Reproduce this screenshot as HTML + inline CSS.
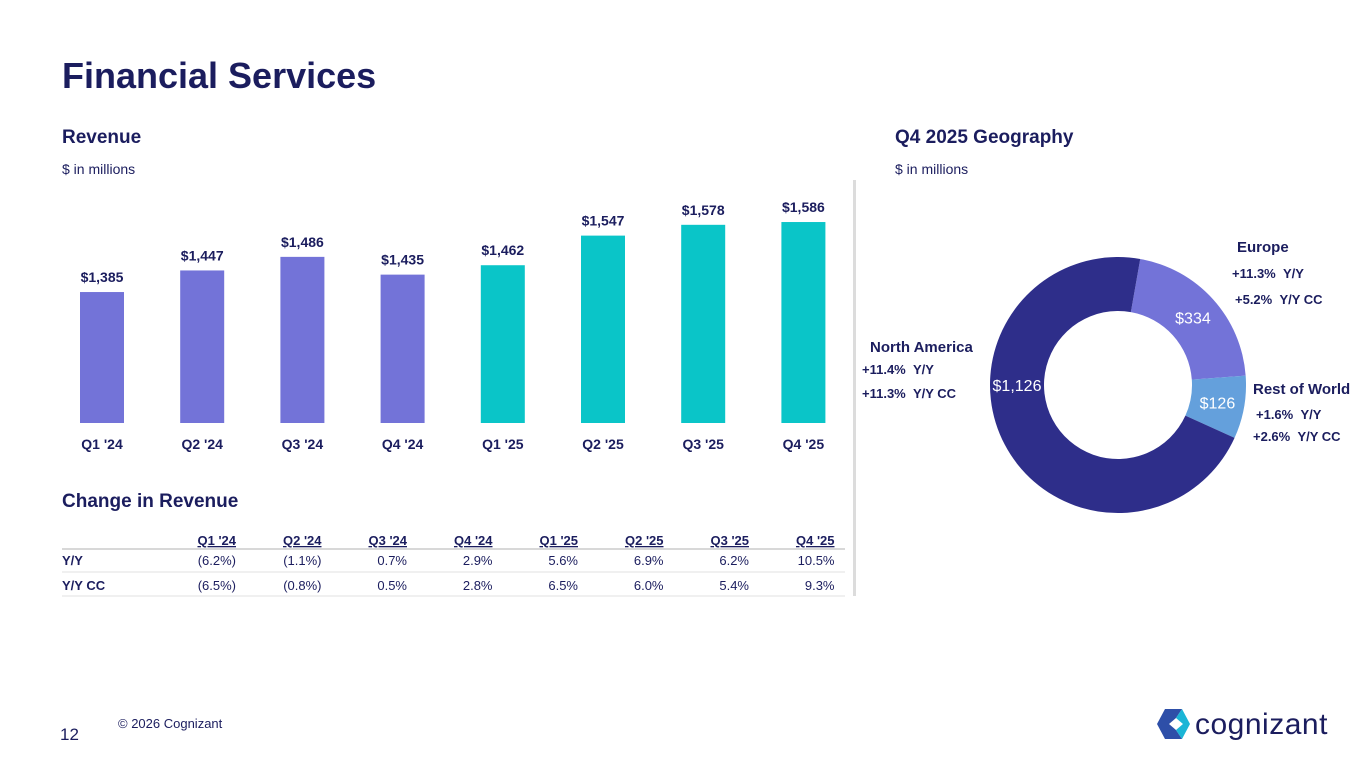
<!DOCTYPE html>
<html><head><meta charset="utf-8">
<style>
body{margin:0;width:1365px;height:768px;background:#fff;font-family:"Liberation Sans",sans-serif;color:#1b1d5e;position:relative;overflow:hidden}
.a{position:absolute;white-space:nowrap}
</style></head><body>
<div class="a" style="left:62px;top:55px;font-size:36px;font-weight:bold">Financial Services</div>
<div class="a" style="left:62px;top:127px;font-size:19px;font-weight:bold">Revenue</div>
<div class="a" style="left:62px;top:161px;font-size:14px">$ in millions</div>
<div class="a" style="left:895px;top:127px;font-size:19px;font-weight:bold">Q4 2025 Geography</div>
<div class="a" style="left:895px;top:161px;font-size:14px">$ in millions</div>
<div class="a" style="left:853px;top:180px;width:3px;height:416px;background:#dcdcdc"></div>
<div class="a" style="left:62px;top:491px;font-size:19px;font-weight:bold">Change in Revenue</div>

<svg class="a" style="left:0;top:0" width="1365" height="768">
<g id="bars"></g><g id="tbl"></g><g id="donut"></g>
</svg>

<div class="a" style="left:118px;top:716px;font-size:13px">© 2026 Cognizant</div>
<div class="a" style="left:60px;top:725px;font-size:17px">12</div>
<svg class="a" style="left:1155px;top:705px" width="200" height="38">
<polygon points="2,19 10,4 27,4 21,13 14,19 21,25 27,34 10,34" fill="#2e4fa8"/>
<polygon points="21,13 27,4 35,19 27,34 21,25 28,19" fill="#1bb5d6"/>
<text x="40" y="29" font-size="30" font-family="Liberation Sans" fill="#1b1d5e" letter-spacing="0.5">cognizant</text>
</svg>

<script>
const quarters=["Q1 '24","Q2 '24","Q3 '24","Q4 '24","Q1 '25","Q2 '25","Q3 '25","Q4 '25"];
const revenue=[1385,1447,1486,1435,1462,1547,1578,1586];
const revLabels=["$1,385","$1,447","$1,486","$1,435","$1,462","$1,547","$1,578","$1,586"];
const yoy=["(6.2%)","(1.1%)","0.7%","2.9%","5.6%","6.9%","6.2%","10.5%"];
const yoyCC=["(6.5%)","(0.8%)","0.5%","2.8%","6.5%","6.0%","5.4%","9.3%"];
const regions=["Europe","Rest of World","North America"];
const regionValues=[334,126,1126];
const regionLabels=["$334","$126","$1,126"];
const NS="http://www.w3.org/2000/svg";
function mk(tag,attrs,parent,txt){const e=document.createElementNS(NS,tag);for(const k in attrs)e.setAttribute(k,attrs[k]);if(txt!==undefined)e.textContent=txt;parent.appendChild(e);return e;}
const base=423,yMin=1009,k=0.3483;
const y=v=>base-(v-yMin)*k;
const x=i=>102+i*100.2;
const bars=document.getElementById('bars');
revenue.forEach((v,i)=>{
 const r=mk('rect',{x:x(i)-22,y:y(v),width:44,height:base-y(v),fill:i<4?'#7373d8':'#0ac5c8'},bars);
 
 
 const t=mk('text',{x:x(i),y:y(v)-10,'text-anchor':'middle','font-size':14,'font-weight':'bold',fill:'#1b1d5e'},bars,revLabels[i]);
 
 
 const q=mk('text',{x:x(i),y:449,'text-anchor':'middle','font-size':14,'font-weight':'bold',fill:'#1b1d5e'},bars,quarters[i]);
 
 
});
const tbl=document.getElementById('tbl');
const cx=i=>236+i*85.5;
mk('line',{x1:62,x2:845,y1:549,y2:549,stroke:'#d8d8d8','stroke-width':2},tbl);
mk('line',{x1:62,x2:845,y1:572,y2:572,stroke:'#e2e2e2','stroke-width':1},tbl);
mk('line',{x1:62,x2:845,y1:596,y2:596,stroke:'#e2e2e2','stroke-width':1},tbl);
mk('text',{x:62,y:565,'font-size':13,'font-weight':'bold',fill:'#1b1d5e'},tbl,"Y/Y");
mk('text',{x:62,y:590,'font-size':13,'font-weight':'bold',fill:'#1b1d5e'},tbl,"Y/Y CC");
quarters.forEach((q,i)=>{
 const h=mk('text',{x:cx(i),y:545,'text-anchor':'end','font-size':13,'font-weight':'bold',fill:'#1b1d5e','text-decoration':'underline'},tbl,q);
 
 
 mk('text',{x:cx(i),y:565,'text-anchor':'end','font-size':13,fill:'#1b1d5e'},tbl,yoy[i]);
 mk('text',{x:cx(i),y:590,'text-anchor':'end','font-size':13,fill:'#1b1d5e'},tbl,yoyCC[i]);
});
const dn=document.getElementById('donut');
const ccx=1118,ccy=385,R=128,r0=74,cols=['#7373d8','#64a0dc','#2e2e8a'];
const tot=regionValues.reduce((a,b)=>a+b,0);
let ang=10;
const pt=(a,rad)=>[ccx+rad*Math.sin(a*Math.PI/180),ccy-rad*Math.cos(a*Math.PI/180)];
regionValues.forEach((v,i)=>{
 const sw=v/tot*360,a2=ang+sw,lg=sw>180?1:0;
 const [x1,y1]=pt(ang,R),[x2,y2]=pt(a2,R),[x3,y3]=pt(a2,r0),[x4,y4]=pt(ang,r0);
 const p=mk('path',{d:`M${x1},${y1}A${R},${R} 0 ${lg} 1 ${x2},${y2}L${x3},${y3}A${r0},${r0} 0 ${lg} 0 ${x4},${y4}Z`,fill:cols[i]},dn);
 
 
 const mid=ang+sw/2;const [lx,ly]=i==2?pt(270,(R+r0)/2):pt(mid,(R+r0)/2);
 mk('text',{x:lx,y:ly+6,'text-anchor':'middle','font-size':16,fill:'#fff'},dn,regionLabels[i]);
 ang=a2;
});
const lab=[[1237,252,"Europe",1],[1232,278,"+11.3%\u00a0\u00a0Y/Y",0],[1235,304,"+5.2%\u00a0\u00a0Y/Y CC",0],
[870,352,"North America",1],[862,374,"+11.4%\u00a0\u00a0Y/Y",0],[862,398,"+11.3%\u00a0\u00a0Y/Y CC",0],
[1253,394,"Rest of World",1],[1256,419,"+1.6%\u00a0\u00a0Y/Y",0],[1253,441,"+2.6%\u00a0\u00a0Y/Y CC",0]];
lab.forEach(l=>mk('text',{x:l[0],y:l[1],'font-size':l[3]?15:13,'font-weight':'bold',fill:'#1b1d5e'},dn,l[2]));
</script>
</body></html>
